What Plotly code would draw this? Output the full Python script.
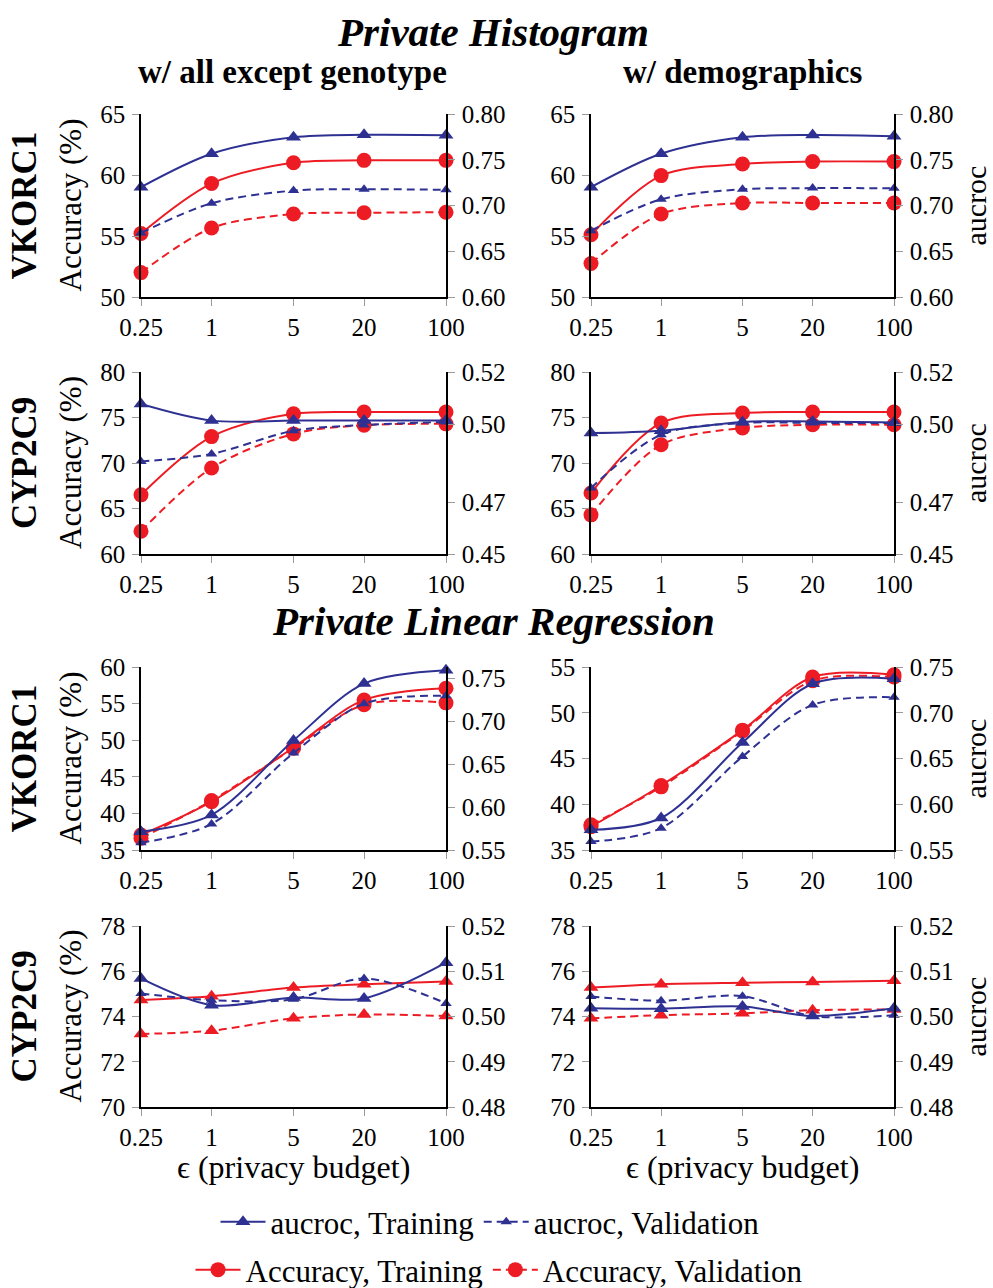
import math
import plotly.graph_objects as go

W, H = 993, 1288

# ---------------- data ----------------
eps = [0.25, 1, 5, 20, 100]
eps_labels = ["0.25", "1", "5", "20", "100"]

# Private Histogram, w/ all except genotype, VKORC1
hist_all_vk_acc_train = [55.2, 59.3, 61.0, 61.2, 61.2]
hist_all_vk_acc_val = [52.0, 55.65, 56.8, 56.9, 56.95]
hist_all_vk_auc_train = [0.720, 0.7565, 0.7745, 0.7772, 0.7768]
hist_all_vk_auc_val = [0.670, 0.7025, 0.7163, 0.7177, 0.7172]
# Private Histogram, w/ demographics, VKORC1
hist_demo_vk_acc_train = [55.1, 59.95, 60.9, 61.1, 61.1]
hist_demo_vk_acc_val = [52.75, 56.8, 57.7, 57.7, 57.7]
hist_demo_vk_auc_train = [0.720, 0.7565, 0.7745, 0.777, 0.7758]
hist_demo_vk_auc_val = [0.6724, 0.7068, 0.7177, 0.719, 0.7188]
# Private Histogram, w/ all except genotype, CYP2C9
hist_all_cyp_acc_train = [66.5, 72.9, 75.4, 75.6, 75.6]
hist_all_cyp_acc_val = [62.5, 69.45, 73.2, 74.15, 74.3]
hist_all_cyp_auc_train = [0.5077, 0.5013, 0.5013, 0.5013, 0.5013]
hist_all_cyp_auc_val = [0.4856, 0.4885, 0.4974, 0.4996, 0.5008]
# Private Histogram, w/ demographics, CYP2C9
hist_demo_cyp_acc_train = [66.7, 74.4, 75.5, 75.6, 75.6]
hist_demo_cyp_acc_val = [64.3, 72.0, 73.85, 74.2, 74.2]
hist_demo_cyp_auc_train = [0.4965, 0.4974, 0.5008, 0.501, 0.5006]
hist_demo_cyp_auc_val = [0.4754, 0.4959, 0.5004, 0.5004, 0.5004]
# Private Linear Regression, w/ all except genotype, VKORC1
lr_all_vk_acc_train = [37.05, 41.6, 49.0, 55.5, 57.1]
lr_all_vk_acc_val = [36.6, 41.75, 48.9, 54.85, 55.1]
lr_all_vk_auc_train = [0.5714, 0.5909, 0.6779, 0.7442, 0.7597]
lr_all_vk_auc_val = [0.5586, 0.5804, 0.6631, 0.7208, 0.7301]
# Private Linear Regression, w/ demographics, VKORC1
lr_demo_vk_acc_train = [37.55, 42.05, 48.1, 53.9, 54.15]
lr_demo_vk_acc_val = [37.75, 41.9, 48.0, 53.5, 53.9]
lr_demo_vk_auc_train = [0.572, 0.585, 0.6674, 0.7317, 0.7372]
lr_demo_vk_auc_val = [0.5592, 0.5739, 0.6521, 0.7086, 0.717]
# Private Linear Regression, w/ all except genotype, CYP2C9
lr_all_cyp_acc_train = [74.73, 74.9, 75.28, 75.43, 75.55]
lr_all_cyp_acc_val = [73.23, 73.37, 73.92, 74.09, 74.02]
lr_all_cyp_auc_train = [0.5084, 0.5025, 0.5042, 0.504, 0.5119]
lr_all_cyp_auc_val = [0.5051, 0.5036, 0.5038, 0.5084, 0.5029]
# Private Linear Regression, w/ demographics, CYP2C9
lr_demo_cyp_acc_train = [75.28, 75.43, 75.49, 75.53, 75.58]
lr_demo_cyp_acc_val = [73.92, 74.06, 74.14, 74.28, 74.31]
lr_demo_cyp_auc_train = [0.5018, 0.5017, 0.5022, 0.5001, 0.5018]
lr_demo_cyp_auc_val = [0.5044, 0.5035, 0.5045, 0.5001, 0.5003]

# axis tick labels
left_ticks_r1 = [50, 55, 60, 65]
right_ticks_r1 = ["0.60", "0.65", "0.70", "0.75", "0.80"]
left_ticks_r2 = [60, 65, 70, 75, 80]
right_ticks_r2 = ["0.45", "0.47", "0.50", "0.52"]
left_ticks_r3a = [35, 40, 45, 50, 55, 60]
left_ticks_r3b = [35, 40, 45, 50, 55]
right_ticks_r3 = ["0.55", "0.60", "0.65", "0.70", "0.75"]
left_ticks_r4 = [70, 72, 74, 76, 78]
right_ticks_r4 = ["0.48", "0.49", "0.50", "0.51", "0.52"]

legend_names = ["aucroc, Training", "aucroc, Validation",
                "Accuracy, Training", "Accuracy, Validation"]

# ---------------- style ----------------
BLUE = "#2E3192"
RED = "#ED1C24"
FONT = "Liberation Serif"
TICKC = "#9a9a9a"

panels = [
    dict(row=0, col=0, acc=(hist_all_vk_acc_train, hist_all_vk_acc_val),
         auc=(hist_all_vk_auc_train, hist_all_vk_auc_val),
         lrange=[50, 65], lt=left_ticks_r1, rrange=[0.60, 0.80], rt=right_ticks_r1, accsym="circle"),
    dict(row=0, col=1, acc=(hist_demo_vk_acc_train, hist_demo_vk_acc_val),
         auc=(hist_demo_vk_auc_train, hist_demo_vk_auc_val),
         lrange=[50, 65], lt=left_ticks_r1, rrange=[0.60, 0.80], rt=right_ticks_r1, accsym="circle"),
    dict(row=1, col=0, acc=(hist_all_cyp_acc_train, hist_all_cyp_acc_val),
         auc=(hist_all_cyp_auc_train, hist_all_cyp_auc_val),
         lrange=[60, 80], lt=left_ticks_r2, rrange=[0.45, 0.52], rt=right_ticks_r2, accsym="circle"),
    dict(row=1, col=1, acc=(hist_demo_cyp_acc_train, hist_demo_cyp_acc_val),
         auc=(hist_demo_cyp_auc_train, hist_demo_cyp_auc_val),
         lrange=[60, 80], lt=left_ticks_r2, rrange=[0.45, 0.52], rt=right_ticks_r2, accsym="circle"),
    dict(row=2, col=0, acc=(lr_all_vk_acc_train, lr_all_vk_acc_val),
         auc=(lr_all_vk_auc_train, lr_all_vk_auc_val),
         lrange=[35, 60], lt=left_ticks_r3a, rrange=[0.55, 0.7636], rt=right_ticks_r3, accsym="circle"),
    dict(row=2, col=1, acc=(lr_demo_vk_acc_train, lr_demo_vk_acc_val),
         auc=(lr_demo_vk_auc_train, lr_demo_vk_auc_val),
         lrange=[35, 55], lt=left_ticks_r3b, rrange=[0.55, 0.75], rt=right_ticks_r3, accsym="circle"),
    dict(row=3, col=0, acc=(lr_all_cyp_acc_train, lr_all_cyp_acc_val),
         auc=(lr_all_cyp_auc_train, lr_all_cyp_auc_val),
         lrange=[70, 78], lt=left_ticks_r4, rrange=[0.48, 0.52], rt=right_ticks_r4, accsym="triangle-up"),
    dict(row=3, col=1, acc=(lr_demo_cyp_acc_train, lr_demo_cyp_acc_val),
         auc=(lr_demo_cyp_auc_train, lr_demo_cyp_auc_val),
         lrange=[70, 78], lt=left_ticks_r4, rrange=[0.48, 0.52], rt=right_ticks_r4, accsym="triangle-up"),
]

# panel edges in window pixels
col_px = [(141, 446), (591, 894)]
row_px = [(114, 297), (372, 554), (667, 850), (926, 1107)]

def px_x(x):
    return x / W

def px_y(y):
    return 1 - y / H

fig = go.Figure()
layout = dict(
    width=W, height=H,
    margin=dict(l=0, r=0, t=0, b=0, autoexpand=False),
    paper_bgcolor="white", plot_bgcolor="rgba(0,0,0,0)",
    font=dict(family=FONT, size=25, color="black"),
)

tickfont = dict(family=FONT, size=25, color="black")
xr = [math.log10(eps[0]), math.log10(eps[-1])]
helper_n = 100
common = dict(showgrid=False, zeroline=False, automargin=False,
              tickcolor=TICKC, tickwidth=1.2, ticklen=7)

for i, p in enumerate(panels):
    xn = i + 1
    yl = 2 * i + 1
    yr = 2 * i + 2
    xkey = "xaxis" if xn == 1 else f"xaxis{xn}"
    xref = "x" if xn == 1 else f"x{xn}"
    ylkey = "yaxis" if yl == 1 else f"yaxis{yl}"
    ylref = "y" if yl == 1 else f"y{yl}"
    yrkey = f"yaxis{yr}"
    yrref = f"y{yr}"
    c0, c1 = col_px[p["col"]]
    r0, r1 = row_px[p["row"]]
    xdom = [px_x(c0), px_x(c1)]
    ydom = [px_y(r1), px_y(r0)]
    rvals = [float(t) for t in p["rt"]]

    layout[xkey] = dict(domain=xdom, anchor=ylref, type="log", range=xr,
                        tickvals=eps, ticktext=eps_labels,
                        showline=True, linecolor="black", linewidth=1.5,
                        ticks="outside", tickfont=tickfont, ticklabelstandoff=0, **common)
    layout[ylkey] = dict(domain=ydom, anchor=xref, range=p["lrange"], tickvals=p["lt"],
                         ticktext=[str(t) for t in p["lt"]],
                         showline=True, linecolor="black", linewidth=1.5,
                         ticks="outside", tickfont=tickfont, ticklabelstandoff=2, **common)
    layout[yrkey] = dict(overlaying=ylref, side="right", anchor=xref, range=p["rrange"],
                         tickvals=rvals, ticktext=p["rt"],
                         showline=True, linecolor="black", linewidth=1.5,
                         ticks="outside", tickfont=tickfont, ticklabelstandoff=2, **common)
    # helper axes to draw the inner half of crossing tick marks
    hx = helper_n + i
    layout[f"xaxis{hx}"] = dict(overlaying=xref, anchor=ylref, side="bottom", type="log", range=xr,
                                tickvals=eps, showticklabels=False, ticks="inside",
                                showline=False, **common)
    hy1 = helper_n + 2 * i
    hy2 = helper_n + 2 * i + 1
    layout[f"yaxis{hy1}"] = dict(overlaying=ylref, anchor=xref, side="left", range=p["lrange"],
                                 tickvals=p["lt"], showticklabels=False, ticks="inside",
                                 showline=False, **common)
    layout[f"yaxis{hy2}"] = dict(overlaying=ylref, anchor=xref, side="right", range=p["rrange"],
                                 tickvals=rvals, showticklabels=False, ticks="inside",
                                 showline=False, **common)

    first = (i == 0)
    acc_tr, acc_va = p["acc"]
    auc_tr, auc_va = p["auc"]
    accsize = 15 if p["accsym"] == "circle" else 13
    fig.add_trace(go.Scatter(x=eps, y=acc_tr, xaxis=xref, yaxis=ylref, mode="lines+markers",
                             line=dict(color=RED, width=2, shape="spline", smoothing=0.9),
                             marker=dict(symbol=p["accsym"], size=accsize, color=RED),
                             cliponaxis=False, name=legend_names[2], showlegend=first,
                             legend="legend2"))
    fig.add_trace(go.Scatter(x=eps, y=acc_va, xaxis=xref, yaxis=ylref, mode="lines+markers",
                             line=dict(color=RED, width=2, dash="8px,5px", shape="spline", smoothing=0.9),
                             marker=dict(symbol=p["accsym"], size=accsize, color=RED),
                             cliponaxis=False, name=legend_names[3], showlegend=first,
                             legend="legend2"))
    fig.add_trace(go.Scatter(x=eps, y=auc_tr, xaxis=xref, yaxis=yrref, mode="lines+markers",
                             line=dict(color=BLUE, width=2, shape="spline", smoothing=0.9),
                             marker=dict(symbol="triangle-up", size=13, color=BLUE),
                             cliponaxis=False, name=legend_names[0], showlegend=first,
                             legend="legend"))
    fig.add_trace(go.Scatter(x=eps, y=auc_va, xaxis=xref, yaxis=yrref, mode="lines+markers",
                             line=dict(color=BLUE, width=2, dash="8px,5px", shape="spline", smoothing=0.9),
                             marker=dict(symbol="triangle-up", size=10, color=BLUE),
                             cliponaxis=False, name=legend_names[1], showlegend=first,
                             legend="legend"))

layout["legend"] = dict(orientation="h", x=px_x(490), y=px_y(1222), xanchor="center", yanchor="middle",
                        font=dict(family=FONT, size=31, color="black"), itemwidth=45,
                        bgcolor="rgba(0,0,0,0)", tracegroupgap=0, traceorder="normal")
layout["legend2"] = dict(orientation="h", x=px_x(499), y=px_y(1270), xanchor="center", yanchor="middle",
                         font=dict(family=FONT, size=31, color="black"), itemwidth=45,
                         bgcolor="rgba(0,0,0,0)", tracegroupgap=0, traceorder="normal")

ann = []
def text(x, y, s, size, angle=0, bold=False, italic=False):
    if italic:
        s = f"<i>{s}</i>"
    if bold:
        s = f"<b>{s}</b>"
    ann.append(dict(x=px_x(x), y=px_y(y), xref="paper", yref="paper", text=s, showarrow=False,
                    textangle=angle, xanchor="center", yanchor="middle",
                    font=dict(family=FONT, size=size, color="black")))

text(493, 32, "Private Histogram", 41, bold=True, italic=True)
text(292, 72, "w/ all except genotype", 33, bold=True)
text(742, 72, "w/ demographics", 33, bold=True)
text(493, 621, "Private Linear Regression", 41, bold=True, italic=True)
row_names = ["VKORC1", "CYP2C9", "VKORC1", "CYP2C9"]
for r, (r0, r1) in enumerate(row_px):
    cy = (r0 + r1) / 2
    text(24, cy, row_names[r], 35, angle=-90, bold=True)
    text(70, cy, "Accuracy (%)", 31, angle=-90)
    text(975, cy, "aucroc", 30, angle=-90)
for (c0, c1) in col_px:
    text((c0 + c1) / 2, 1167, "\u03f5 (privacy budget)", 32)

layout["annotations"] = ann
fig.update_layout(**layout)
fig.write_html("out.html", config={"displayModeBar": False},
               post_script="document.body.style.margin='0';document.body.style.overflow='hidden';")
